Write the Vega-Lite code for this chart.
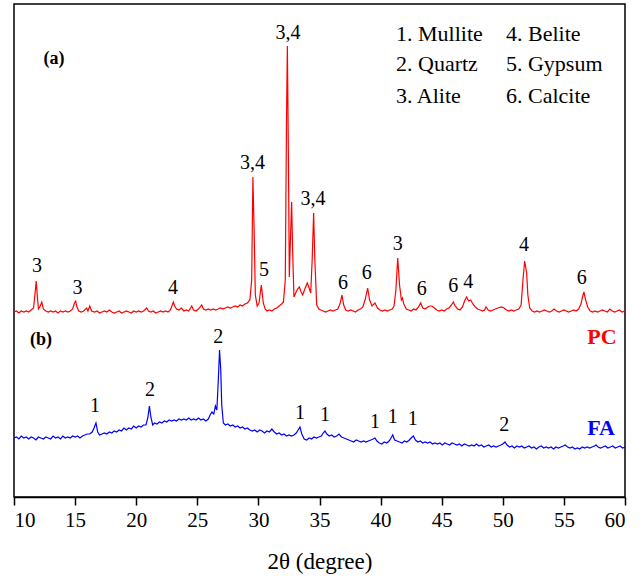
{
  "$schema": "https://vega.github.io/schema/vega-lite/v6.json",
  "width": 611,
  "height": 493,
  "autosize": "none",
  "padding": {"left": 14, "top": 4, "right": 15, "bottom": 86},
  "background": "white",
  "config": {
    "view": {"stroke": "black", "strokeWidth": 1.5}
  },
  "datasets": {
    "pc": [
      {"t":10.0,"i":185},{"t":10.2,"i":186},{"t":10.4,"i":184},{"t":10.6,"i":186},{"t":10.8,"i":185},{"t":11.0,"i":186},{"t":11.2,"i":185},{"t":11.4,"i":187},{"t":11.6,"i":189},{"t":11.75,"i":207},{"t":11.82,"i":216},{"t":11.9,"i":202},{"t":12.0,"i":188},{"t":12.15,"i":191},{"t":12.27,"i":195},{"t":12.4,"i":188},{"t":12.6,"i":186},{"t":12.8,"i":185},{"t":13.0,"i":186},{"t":13.2,"i":185},{"t":13.4,"i":186},{"t":13.6,"i":184},{"t":13.8,"i":186},{"t":14.0,"i":185},{"t":14.2,"i":186},{"t":14.4,"i":185},{"t":14.6,"i":186},{"t":14.8,"i":188},{"t":14.95,"i":194},{"t":15.05,"i":196},{"t":15.15,"i":190},{"t":15.3,"i":186},{"t":15.5,"i":185},{"t":15.7,"i":186},{"t":15.95,"i":189},{"t":16.05,"i":186},{"t":16.2,"i":191},{"t":16.35,"i":186},{"t":16.6,"i":185},{"t":16.8,"i":186},{"t":17.0,"i":184},{"t":17.2,"i":185},{"t":17.4,"i":186},{"t":17.6,"i":185},{"t":17.8,"i":187},{"t":18.0,"i":185},{"t":18.2,"i":184},{"t":18.4,"i":185},{"t":18.6,"i":186},{"t":18.8,"i":184},{"t":19.0,"i":185},{"t":19.2,"i":186},{"t":19.4,"i":185},{"t":19.6,"i":184},{"t":19.8,"i":186},{"t":20.0,"i":185},{"t":20.2,"i":186},{"t":20.4,"i":185},{"t":20.6,"i":186},{"t":20.86,"i":189},{"t":21.0,"i":186},{"t":21.2,"i":185},{"t":21.4,"i":186},{"t":21.6,"i":184},{"t":21.8,"i":185},{"t":22.0,"i":186},{"t":22.2,"i":185},{"t":22.4,"i":186},{"t":22.6,"i":185},{"t":22.8,"i":187},{"t":22.95,"i":192},{"t":23.04,"i":195},{"t":23.15,"i":191},{"t":23.3,"i":188},{"t":23.5,"i":187},{"t":23.7,"i":189},{"t":23.9,"i":186},{"t":24.1,"i":187},{"t":24.3,"i":186},{"t":24.54,"i":191},{"t":24.7,"i":187},{"t":24.9,"i":186},{"t":25.1,"i":188},{"t":25.36,"i":192},{"t":25.5,"i":188},{"t":25.7,"i":187},{"t":25.9,"i":188},{"t":26.1,"i":187},{"t":26.3,"i":188},{"t":26.5,"i":187},{"t":26.7,"i":188},{"t":26.9,"i":189},{"t":27.1,"i":188},{"t":27.3,"i":189},{"t":27.5,"i":190},{"t":27.7,"i":189},{"t":27.9,"i":190},{"t":28.1,"i":191},{"t":28.3,"i":190},{"t":28.5,"i":192},{"t":28.7,"i":191},{"t":28.9,"i":193},{"t":29.1,"i":194},{"t":29.3,"i":197},{"t":29.45,"i":217},{"t":29.55,"i":320},{"t":29.65,"i":267},{"t":29.75,"i":202},{"t":29.9,"i":191},{"t":30.05,"i":194},{"t":30.24,"i":212},{"t":30.4,"i":194},{"t":30.55,"i":188},{"t":30.7,"i":186},{"t":30.9,"i":187},{"t":31.1,"i":186},{"t":31.3,"i":188},{"t":31.5,"i":189},{"t":31.7,"i":191},{"t":31.9,"i":193},{"t":32.05,"i":195},{"t":32.2,"i":217},{"t":32.3,"i":377},{"t":32.37,"i":451},{"t":32.45,"i":347},{"t":32.53,"i":220},{"t":32.62,"i":257},{"t":32.72,"i":295},{"t":32.8,"i":247},{"t":32.91,"i":200},{"t":33.05,"i":204},{"t":33.2,"i":208},{"t":33.35,"i":210},{"t":33.5,"i":205},{"t":33.62,"i":202},{"t":33.8,"i":208},{"t":34.0,"i":214},{"t":34.15,"i":209},{"t":34.28,"i":204},{"t":34.4,"i":237},{"t":34.52,"i":284},{"t":34.62,"i":237},{"t":34.77,"i":192},{"t":34.95,"i":188},{"t":35.1,"i":187},{"t":35.3,"i":186},{"t":35.5,"i":185},{"t":35.7,"i":186},{"t":35.9,"i":187},{"t":36.1,"i":186},{"t":36.3,"i":187},{"t":36.5,"i":188},{"t":36.7,"i":194},{"t":36.84,"i":202},{"t":36.98,"i":192},{"t":37.15,"i":187},{"t":37.35,"i":186},{"t":37.55,"i":187},{"t":37.75,"i":186},{"t":37.95,"i":185},{"t":38.15,"i":187},{"t":38.35,"i":188},{"t":38.55,"i":190},{"t":38.75,"i":198},{"t":38.94,"i":209},{"t":39.1,"i":197},{"t":39.3,"i":191},{"t":39.54,"i":194},{"t":39.75,"i":189},{"t":39.95,"i":187},{"t":40.15,"i":186},{"t":40.35,"i":187},{"t":40.55,"i":186},{"t":40.75,"i":187},{"t":40.95,"i":188},{"t":41.1,"i":191},{"t":41.25,"i":207},{"t":41.4,"i":239},{"t":41.55,"i":212},{"t":41.7,"i":197},{"t":41.78,"i":199},{"t":41.9,"i":193},{"t":42.1,"i":188},{"t":42.3,"i":187},{"t":42.5,"i":186},{"t":42.7,"i":188},{"t":42.9,"i":187},{"t":43.1,"i":190},{"t":43.28,"i":194},{"t":43.45,"i":189},{"t":43.65,"i":188},{"t":43.85,"i":190},{"t":44.05,"i":191},{"t":44.2,"i":191},{"t":44.4,"i":189},{"t":44.6,"i":187},{"t":44.8,"i":186},{"t":45.0,"i":187},{"t":45.2,"i":186},{"t":45.4,"i":188},{"t":45.6,"i":189},{"t":45.8,"i":192},{"t":45.95,"i":195},{"t":46.1,"i":191},{"t":46.3,"i":188},{"t":46.5,"i":187},{"t":46.7,"i":190},{"t":46.9,"i":197},{"t":47.04,"i":200},{"t":47.2,"i":196},{"t":47.37,"i":197},{"t":47.55,"i":193},{"t":47.75,"i":190},{"t":47.95,"i":188},{"t":48.15,"i":187},{"t":48.35,"i":186},{"t":48.5,"i":187},{"t":48.63,"i":190},{"t":48.8,"i":187},{"t":49.0,"i":186},{"t":49.2,"i":187},{"t":49.4,"i":188},{"t":49.6,"i":189},{"t":49.9,"i":190},{"t":50.1,"i":189},{"t":50.3,"i":187},{"t":50.5,"i":186},{"t":50.7,"i":187},{"t":50.9,"i":186},{"t":51.1,"i":187},{"t":51.3,"i":188},{"t":51.5,"i":192},{"t":51.65,"i":217},{"t":51.79,"i":236},{"t":51.95,"i":224},{"t":52.05,"i":202},{"t":52.2,"i":189},{"t":52.4,"i":186},{"t":52.6,"i":185},{"t":52.8,"i":186},{"t":53.0,"i":185},{"t":53.2,"i":186},{"t":53.4,"i":187},{"t":53.6,"i":186},{"t":53.8,"i":185},{"t":54.0,"i":186},{"t":54.2,"i":188},{"t":54.4,"i":186},{"t":54.6,"i":185},{"t":54.8,"i":186},{"t":55.0,"i":187},{"t":55.2,"i":186},{"t":55.4,"i":185},{"t":55.6,"i":186},{"t":55.8,"i":187},{"t":56.0,"i":186},{"t":56.2,"i":188},{"t":56.4,"i":193},{"t":56.52,"i":200},{"t":56.64,"i":205},{"t":56.78,"i":197},{"t":56.95,"i":190},{"t":57.15,"i":186},{"t":57.35,"i":185},{"t":57.55,"i":186},{"t":57.75,"i":185},{"t":57.95,"i":186},{"t":58.15,"i":187},{"t":58.35,"i":186},{"t":58.55,"i":185},{"t":58.77,"i":188},{"t":58.95,"i":186},{"t":59.15,"i":185},{"t":59.35,"i":186},{"t":59.55,"i":187},{"t":59.75,"i":185},{"t":60.0,"i":186}
    ],
    "fa": [
      {"t":10.0,"i":59},{"t":10.2,"i":60},{"t":10.4,"i":58},{"t":10.6,"i":61},{"t":10.8,"i":59},{"t":11.0,"i":60},{"t":11.2,"i":58},{"t":11.4,"i":60},{"t":11.6,"i":59},{"t":11.8,"i":57},{"t":12.0,"i":60},{"t":12.2,"i":59},{"t":12.4,"i":58},{"t":12.6,"i":60},{"t":12.8,"i":59},{"t":13.0,"i":58},{"t":13.2,"i":61},{"t":13.4,"i":59},{"t":13.6,"i":60},{"t":13.8,"i":58},{"t":14.0,"i":61},{"t":14.2,"i":59},{"t":14.4,"i":60},{"t":14.6,"i":59},{"t":14.8,"i":61},{"t":15.0,"i":60},{"t":15.2,"i":61},{"t":15.4,"i":59},{"t":15.6,"i":61},{"t":15.8,"i":62},{"t":16.0,"i":63},{"t":16.2,"i":63},{"t":16.4,"i":65},{"t":16.55,"i":69},{"t":16.71,"i":74},{"t":16.85,"i":65},{"t":17.0,"i":62},{"t":17.2,"i":63},{"t":17.4,"i":64},{"t":17.6,"i":63},{"t":17.8,"i":65},{"t":18.0,"i":64},{"t":18.2,"i":66},{"t":18.4,"i":65},{"t":18.6,"i":67},{"t":18.8,"i":66},{"t":19.0,"i":69},{"t":19.2,"i":67},{"t":19.4,"i":69},{"t":19.6,"i":68},{"t":19.8,"i":71},{"t":20.0,"i":69},{"t":20.2,"i":71},{"t":20.4,"i":70},{"t":20.6,"i":72},{"t":20.8,"i":72},{"t":20.95,"i":79},{"t":21.08,"i":91},{"t":21.2,"i":80},{"t":21.35,"i":72},{"t":21.5,"i":74},{"t":21.7,"i":73},{"t":21.9,"i":75},{"t":22.1,"i":74},{"t":22.3,"i":76},{"t":22.5,"i":75},{"t":22.7,"i":77},{"t":22.9,"i":76},{"t":23.1,"i":77},{"t":23.3,"i":76},{"t":23.5,"i":78},{"t":23.7,"i":77},{"t":23.9,"i":78},{"t":24.1,"i":77},{"t":24.3,"i":79},{"t":24.5,"i":77},{"t":24.7,"i":78},{"t":24.9,"i":77},{"t":25.1,"i":79},{"t":25.3,"i":77},{"t":25.5,"i":78},{"t":25.7,"i":76},{"t":25.9,"i":78},{"t":26.05,"i":82},{"t":26.2,"i":85},{"t":26.35,"i":83},{"t":26.48,"i":91},{"t":26.6,"i":87},{"t":26.72,"i":117},{"t":26.82,"i":147},{"t":26.92,"i":127},{"t":27.0,"i":92},{"t":27.13,"i":74},{"t":27.3,"i":72},{"t":27.5,"i":73},{"t":27.7,"i":71},{"t":27.9,"i":72},{"t":28.1,"i":70},{"t":28.3,"i":71},{"t":28.5,"i":69},{"t":28.7,"i":70},{"t":28.9,"i":68},{"t":29.1,"i":69},{"t":29.3,"i":67},{"t":29.5,"i":66},{"t":29.7,"i":67},{"t":29.9,"i":65},{"t":30.1,"i":67},{"t":30.3,"i":66},{"t":30.5,"i":64},{"t":30.7,"i":66},{"t":30.9,"i":65},{"t":31.1,"i":68},{"t":31.3,"i":65},{"t":31.5,"i":63},{"t":31.7,"i":64},{"t":31.9,"i":62},{"t":32.1,"i":63},{"t":32.3,"i":61},{"t":32.5,"i":62},{"t":32.7,"i":61},{"t":32.9,"i":62},{"t":33.1,"i":64},{"t":33.25,"i":67},{"t":33.4,"i":70},{"t":33.55,"i":63},{"t":33.75,"i":58},{"t":33.95,"i":57},{"t":34.15,"i":59},{"t":34.35,"i":58},{"t":34.55,"i":60},{"t":34.75,"i":59},{"t":34.95,"i":60},{"t":35.15,"i":61},{"t":35.3,"i":64},{"t":35.45,"i":66},{"t":35.6,"i":63},{"t":35.8,"i":61},{"t":36.0,"i":62},{"t":36.2,"i":60},{"t":36.4,"i":61},{"t":36.6,"i":63},{"t":36.8,"i":60},{"t":37.0,"i":59},{"t":37.2,"i":58},{"t":37.4,"i":57},{"t":37.6,"i":56},{"t":37.8,"i":55},{"t":38.0,"i":57},{"t":38.2,"i":56},{"t":38.4,"i":55},{"t":38.6,"i":56},{"t":38.8,"i":55},{"t":39.0,"i":56},{"t":39.2,"i":57},{"t":39.38,"i":58},{"t":39.54,"i":59},{"t":39.7,"i":56},{"t":39.9,"i":54},{"t":40.1,"i":53},{"t":40.3,"i":55},{"t":40.5,"i":54},{"t":40.7,"i":56},{"t":40.85,"i":59},{"t":40.99,"i":62},{"t":41.15,"i":57},{"t":41.35,"i":56},{"t":41.55,"i":55},{"t":41.75,"i":54},{"t":41.95,"i":56},{"t":42.15,"i":55},{"t":42.35,"i":57},{"t":42.5,"i":59},{"t":42.68,"i":61},{"t":42.85,"i":57},{"t":43.05,"i":55},{"t":43.25,"i":56},{"t":43.45,"i":54},{"t":43.65,"i":55},{"t":43.85,"i":54},{"t":44.05,"i":55},{"t":44.25,"i":53},{"t":44.45,"i":54},{"t":44.65,"i":53},{"t":44.85,"i":54},{"t":45.05,"i":52},{"t":45.25,"i":54},{"t":45.45,"i":53},{"t":45.65,"i":52},{"t":45.85,"i":54},{"t":46.05,"i":53},{"t":46.25,"i":52},{"t":46.45,"i":53},{"t":46.65,"i":51},{"t":46.85,"i":53},{"t":47.05,"i":52},{"t":47.25,"i":51},{"t":47.45,"i":52},{"t":47.65,"i":51},{"t":47.85,"i":53},{"t":48.05,"i":51},{"t":48.25,"i":52},{"t":48.45,"i":50},{"t":48.65,"i":51},{"t":48.85,"i":52},{"t":49.05,"i":50},{"t":49.25,"i":51},{"t":49.45,"i":50},{"t":49.65,"i":51},{"t":49.85,"i":52},{"t":50.0,"i":53},{"t":50.18,"i":55},{"t":50.35,"i":52},{"t":50.55,"i":50},{"t":50.75,"i":51},{"t":50.95,"i":49},{"t":51.15,"i":51},{"t":51.35,"i":50},{"t":51.55,"i":51},{"t":51.75,"i":49},{"t":51.95,"i":50},{"t":52.15,"i":51},{"t":52.35,"i":49},{"t":52.55,"i":50},{"t":52.75,"i":48},{"t":52.95,"i":50},{"t":53.15,"i":51},{"t":53.35,"i":49},{"t":53.55,"i":50},{"t":53.75,"i":49},{"t":53.95,"i":50},{"t":54.15,"i":48},{"t":54.35,"i":50},{"t":54.55,"i":49},{"t":54.75,"i":50},{"t":54.95,"i":51},{"t":55.1,"i":52},{"t":55.3,"i":50},{"t":55.5,"i":49},{"t":55.7,"i":50},{"t":55.9,"i":48},{"t":56.1,"i":49},{"t":56.3,"i":48},{"t":56.5,"i":50},{"t":56.7,"i":49},{"t":56.9,"i":50},{"t":57.1,"i":49},{"t":57.3,"i":50},{"t":57.5,"i":51},{"t":57.63,"i":52},{"t":57.8,"i":50},{"t":58.0,"i":49},{"t":58.2,"i":50},{"t":58.4,"i":51},{"t":58.6,"i":49},{"t":58.8,"i":50},{"t":59.0,"i":51},{"t":59.2,"i":49},{"t":59.4,"i":50},{"t":59.6,"i":51},{"t":59.8,"i":49},{"t":60.0,"i":50}
    ],
    "peaks": [
      {"t":11.88,"i":231,"label":"3"},{"t":15.2,"i":209,"label":"3"},{"t":23.01,"i":209,"label":"4"},{"t":29.52,"i":334,"label":"3,4"},{"t":30.46,"i":227,"label":"5"},{"t":32.42,"i":464,"label":"3,4"},{"t":34.47,"i":298,"label":"3,4"},{"t":36.92,"i":214,"label":"6"},{"t":38.86,"i":224,"label":"6"},{"t":41.4,"i":253,"label":"3"},{"t":43.36,"i":208,"label":"6"},{"t":45.95,"i":211,"label":"6"},{"t":47.18,"i":215,"label":"4"},{"t":51.73,"i":252,"label":"4"},{"t":56.46,"i":219,"label":"6"},
      {"t":16.63,"i":91,"label":"1"},{"t":21.13,"i":107,"label":"2"},{"t":26.72,"i":160,"label":"2"},{"t":33.4,"i":84,"label":"1"},{"t":35.45,"i":82,"label":"1"},{"t":39.54,"i":75,"label":"1"},{"t":40.99,"i":80,"label":"1"},{"t":42.63,"i":78,"label":"1"},{"t":50.12,"i":72,"label":"2"}
    ],
    "phases": [
      {"t":41.26,"i":463,"label":"1. Mullite"},{"t":41.26,"i":433,"label":"2. Quartz"},{"t":41.26,"i":401,"label":"3. Alite"},
      {"t":50.26,"i":463,"label":"4. Belite"},{"t":50.26,"i":433,"label":"5. Gypsum"},{"t":50.26,"i":401,"label":"6. Calcite"}
    ],
    "panels": [
      {"t":13.27,"i":438,"label":"(a)"},{"t":12.21,"i":157,"label":"(b)"}
    ],
    "samples": [
      {"t":58.12,"i":160,"label":"PC"},{"t":58.04,"i":69,"label":"FA"}
    ]
  },
  "encoding": {
    "x": {
      "field": "t", "type": "quantitative",
      "scale": {"domain": [10, 60], "nice": false, "zero": false},
      "axis": {
        "title": "2θ (degree)",
        "values": [10, 15, 20, 25, 30, 35, 40, 45, 50, 55, 60],
        "grid": false, "domainColor": "black", "domainWidth": 1.5,
        "tickColor": "black", "tickWidth": 1.5, "tickSize": 8,
        "labelFont": "Liberation Serif", "labelFontSize": 21, "labelColor": "black", "labelPadding": 4,
        "titleFont": "Liberation Serif", "titleFontSize": 23, "titleFontWeight": "normal", "titleColor": "black", "titlePadding": 20
      }
    },
    "y": {
      "field": "i", "type": "quantitative",
      "scale": {"domain": [0, 493], "nice": false},
      "axis": null
    }
  },
  "layer": [
    {"data": {"name": "pc"}, "mark": {"type": "line", "color": "#ff0000", "strokeWidth": 1.2}},
    {"data": {"name": "fa"}, "mark": {"type": "line", "color": "#0000ff", "strokeWidth": 1.2}},
    {"data": {"name": "peaks"}, "mark": {"type": "text", "font": "Liberation Serif", "fontSize": 20, "color": "black", "baseline": "middle", "align": "center"}, "encoding": {"text": {"field": "label"}}},
    {"data": {"name": "phases"}, "mark": {"type": "text", "font": "Liberation Serif", "fontSize": 22, "color": "black", "baseline": "middle", "align": "left"}, "encoding": {"text": {"field": "label"}}},
    {"data": {"name": "panels"}, "mark": {"type": "text", "font": "Liberation Serif", "fontSize": 18, "fontWeight": "bold", "color": "black", "baseline": "middle", "align": "center"}, "encoding": {"text": {"field": "label"}}},
    {"data": {"name": "samples"}, "mark": {"type": "text", "font": "Liberation Serif", "fontSize": 22, "fontWeight": "bold", "baseline": "middle", "align": "center"},
     "encoding": {"text": {"field": "label"}, "color": {"field": "label", "type": "nominal", "scale": {"domain": ["PC", "FA"], "range": ["#ff0000", "#0000ff"]}, "legend": null}}}
  ]
}
